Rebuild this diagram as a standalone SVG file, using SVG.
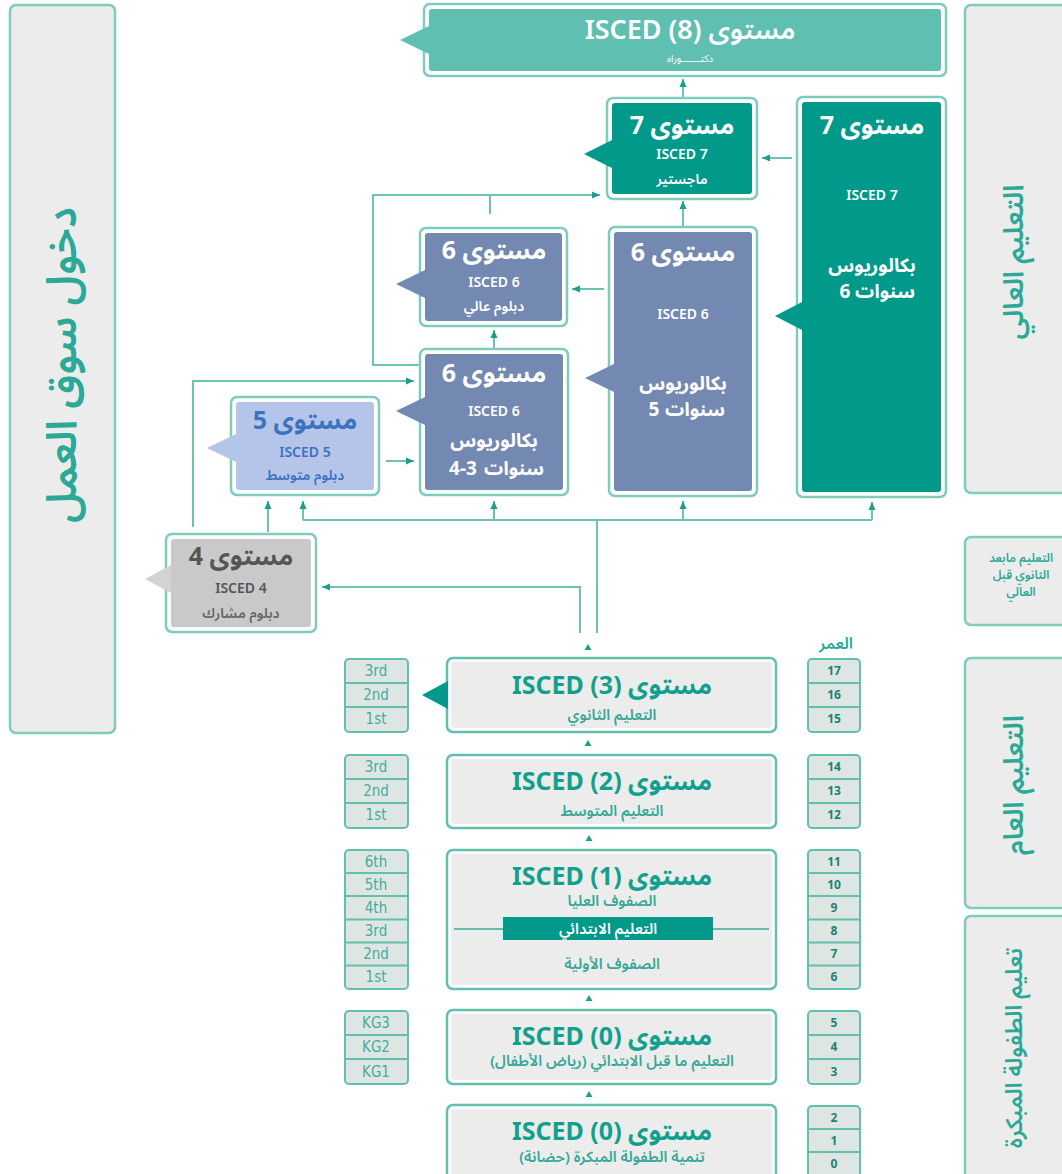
<svg xmlns="http://www.w3.org/2000/svg" width="1062" height="1174" viewBox="0 0 1062 1174">
<defs>
<marker id="ah" markerUnits="userSpaceOnUse" markerWidth="9" markerHeight="8" refX="8" refY="4" orient="auto"><path d="M0,0.5 L8,4 L0,7.5 z" fill="#1a9f8c"/></marker>
<style>
.frame{fill:#fff;stroke:#7fcbbd;stroke-width:2.5}
.side{fill:#ececec;stroke:#7fcbbd;stroke-width:2.5}
.low{fill:#fff;stroke:#63bfae;stroke-width:2.5}
.lowin{fill:#ececec}
.cell{fill:#dde6e3;stroke:#63bfae;stroke-width:2}
.sep{stroke:#63bfae;stroke-width:2}
.c{fill:none;stroke:#6cc3b3;stroke-width:2}
.ca{fill:none;stroke:#6cc3b3;stroke-width:2;marker-end:url(#ah)}
.dot{fill:#1a9f8c}
text{font-family:"Noto Sans","Noto Sans Arabic","DejaVu Sans",sans-serif;text-anchor:middle}
.w{fill:#fff}
.h{font-size:25px;font-weight:700}
.s{font-size:14px;font-weight:600}
.m{font-size:19px;font-weight:700}
.lt{font-size:25px;font-weight:700;fill:#12a08e}
.ls{font-size:15px;fill:#37a897;font-weight:600}
.g{font-family:"Liberation Sans Narrow","DejaVu Sans Condensed","Liberation Sans",sans-serif;font-size:15px;fill:#47ab9c}
.a{font-size:12px;font-weight:700;fill:#1d8273}
.vt{fill:#2ba996;font-weight:600}
</style>
</defs>
<rect x="0" y="0" width="1062" height="1174" fill="#fff"/>

<g id="connectors">
<path class="ca" d="M683,97 V79"/>
<path class="ca" d="M683,226 V201"/>
<path class="ca" d="M792,158 H762"/>
<path class="ca" d="M420,365 H373 V195 H600"/>
<path class="c" d="M490,195 V214"/>
<path class="ca" d="M604,289 H572"/>
<path class="ca" d="M494,348 V330"/>
<path class="ca" d="M193,527 V381 H414"/>
<path class="ca" d="M386,461 H414"/>
<path class="ca" d="M268,532 V501"/>
<path class="c" d="M597,633 V520 M303,520 H872"/>
<path class="ca" d="M303,520 V501"/>
<path class="ca" d="M494,520 V501"/>
<path class="ca" d="M683,520 V501"/>
<path class="ca" d="M872,520 V502"/>
<path class="ca" d="M580,633 V587 H322"/>
<path class="dot" d="M588,644 L591.5,650 L584.5,650 z"/>
<path class="dot" d="M588,740 L591.5,746 L584.5,746 z"/>
<path class="dot" d="M589,835 L592.5,841 L585.5,841 z"/>
<path class="dot" d="M589,995 L592.5,1001 L585.5,1001 z"/>
<path class="dot" d="M589,1091 L592.5,1097 L585.5,1097 z"/>
</g>

<g id="labour-market">
<rect class="side" x="10" y="5" width="105" height="728" rx="6"/>
<text class="vt" transform="translate(76,365) rotate(-90)" font-size="42" direction="rtl">دخول سوق العمل</text>
</g>

<g id="higher-ed">
<rect class="side" x="965" y="5" width="110" height="488" rx="6"/>
<text class="vt" transform="translate(1023,262) rotate(-90)" font-size="28" direction="rtl">التعليم العالي</text>
</g>
<g id="post-secondary">
<rect class="side" x="965" y="537" width="110" height="88" rx="6"/>
<text class="vt" x="1021" y="562" font-size="12" direction="rtl">التعليم مابعد</text>
<text class="vt" x="1021" y="579" font-size="12" direction="rtl">الثانوي قبل</text>
<text class="vt" x="1021" y="596" font-size="12" direction="rtl">العالي</text>
</g>
<g id="general-ed">
<rect class="side" x="965" y="658" width="110" height="250" rx="6"/>
<text class="vt" transform="translate(1023,785) rotate(-90)" font-size="28" direction="rtl">التعليم العام</text>
</g>
<g id="early-childhood">
<rect class="side" x="965" y="916" width="110" height="265" rx="6"/>
<text class="vt" transform="translate(1022,1048) rotate(-90)" font-size="23" direction="rtl">تعليم الطفولة المبكرة</text>
</g>

<g id="isced8">
<rect class="frame" x="424" y="4" width="522" height="72" rx="6"/>
<rect x="429" y="9" width="512" height="62" rx="3" fill="#5fbfb1"/>
<polygon points="400,40 429,26 429,54" fill="#5fbfb1"/>
<text class="w" x="690" y="39" font-size="27" font-weight="600">ISCED (8) مستوى</text>
<text class="w" x="690" y="62" font-size="10" direction="rtl">دكتـــــــوراه</text>
</g>

<g id="master">
<rect class="frame" x="607" y="98" width="150" height="101" rx="6"/>
<rect x="612" y="103" width="140" height="91" rx="3" fill="#00998a"/>
<polygon points="584,154 612,140 612,168" fill="#00998a"/>
<text class="w h" x="682" y="134" direction="rtl">مستوى 7</text>
<text class="w s" x="682" y="159">ISCED 7</text>
<text class="w s" x="682" y="184" direction="rtl">ماجستير</text>
</g>

<g id="bachelor6">
<rect class="frame" x="797" y="97" width="149" height="400" rx="6"/>
<rect x="802" y="102" width="139" height="390" rx="3" fill="#00998a"/>
<polygon points="775,316 802,302 802,330" fill="#00998a"/>
<text class="w h" x="872" y="134" direction="rtl">مستوى 7</text>
<text class="w s" x="872" y="200">ISCED 7</text>
<text class="w m" x="872" y="272" direction="rtl">بكالوريوس</text>
<text class="w m" x="845" y="298">6</text>
<text class="w m" x="885" y="298" direction="rtl">سنوات</text>
</g>

<g id="higher-diploma">
<rect class="frame" x="420" y="228" width="147" height="98" rx="6"/>
<rect x="425" y="233" width="137" height="88" rx="3" fill="#7389b1"/>
<polygon points="396,284 425,270 425,298" fill="#7389b1"/>
<text class="w h" x="494" y="259" direction="rtl">مستوى 6</text>
<text class="w s" x="494" y="287">ISCED 6</text>
<text class="w s" x="494" y="311" direction="rtl">دبلوم عالي</text>
</g>

<g id="bachelor5">
<rect class="frame" x="609" y="227" width="148" height="269" rx="6"/>
<rect x="614" y="232" width="138" height="259" rx="3" fill="#7389b1"/>
<polygon points="585,378 614,364 614,392" fill="#7389b1"/>
<text class="w h" x="683" y="261" direction="rtl">مستوى 6</text>
<text class="w s" x="683" y="319">ISCED 6</text>
<text class="w m" x="683" y="390" direction="rtl">بكالوريوس</text>
<text class="w m" x="654" y="416">5</text>
<text class="w m" x="695" y="416" direction="rtl">سنوات</text>
</g>

<g id="bachelor34">
<rect class="frame" x="420" y="349" width="148" height="146" rx="6"/>
<rect x="425" y="354" width="138" height="136" rx="3" fill="#7389b1"/>
<polygon points="396,411 425,397 425,425" fill="#7389b1"/>
<text class="w h" x="494" y="382" direction="rtl">مستوى 6</text>
<text class="w s" x="494" y="416">ISCED 6</text>
<text class="w m" x="494" y="447" direction="rtl">بكالوريوس</text>
<text class="w m" x="463" y="475">4-3</text>
<text class="w m" x="514" y="475" direction="rtl">سنوات</text>
</g>

<g id="level5">
<rect class="frame" x="231" y="397" width="148" height="98" rx="6"/>
<rect x="236" y="402" width="138" height="88" rx="3" fill="#b4c5e9"/>
<polygon points="207,448 236,434 236,462" fill="#b4c5e9"/>
<text class="h" x="305" y="429" fill="#3d72bf" direction="rtl">مستوى 5</text>
<text class="s" x="305" y="457" fill="#3d72bf" font-weight="700">ISCED 5</text>
<text class="s" x="305" y="480" fill="#3d72bf" font-weight="700" direction="rtl">دبلوم متوسط</text>
</g>

<g id="level4">
<rect class="frame" x="166" y="534" width="150" height="98" rx="6"/>
<rect x="171" y="539" width="140" height="88" rx="3" fill="#c9c9c9"/>
<polygon points="145,579 171,565 171,593" fill="#d3d3d3"/>
<text class="h" x="241" y="565" fill="#555" direction="rtl">مستوى 4</text>
<text class="s" x="241" y="593" fill="#555" font-weight="700">ISCED 4</text>
<text class="s" x="241" y="618" fill="#666" direction="rtl">دبلوم مشارك</text>
</g>

<g id="isced3">
<rect class="low" x="447" y="658" width="329" height="74" rx="6"/>
<rect class="lowin" x="451" y="662" width="321" height="66" rx="3"/>
<polygon points="422,695 448,681 448,709" fill="#00998a"/>
<text class="lt" x="612" y="694">ISCED (3) مستوى</text>
<text class="ls" x="612" y="720" direction="rtl">التعليم الثانوي</text>
</g>

<g id="isced2">
<rect class="low" x="447" y="755" width="329" height="73" rx="6"/>
<rect class="lowin" x="451" y="759" width="321" height="65" rx="3"/>
<text class="lt" x="612" y="790">ISCED (2) مستوى</text>
<text class="ls" x="612" y="816" direction="rtl">التعليم المتوسط</text>
</g>

<g id="isced1">
<rect class="low" x="447" y="850" width="329" height="139" rx="6"/>
<rect class="lowin" x="451" y="854" width="321" height="131" rx="3"/>
<text class="lt" x="612" y="885">ISCED (1) مستوى</text>
<text class="ls" x="612" y="906" direction="rtl">الصفوف العليا</text>
<line x1="454" y1="929" x2="769" y2="929" stroke="#63bfae" stroke-width="2"/>
<rect x="503" y="917" width="210" height="23" fill="#00998a"/>
<text class="w" x="608" y="934" font-size="15" font-weight="600" direction="rtl">التعليم الابتدائي</text>
<text class="ls" x="612" y="969" direction="rtl">الصفوف الأولية</text>
</g>

<g id="isced0-kg">
<rect class="low" x="447" y="1010" width="329" height="74" rx="6"/>
<rect class="lowin" x="451" y="1014" width="321" height="66" rx="3"/>
<text class="lt" x="612" y="1045">ISCED (0) مستوى</text>
<text class="ls" x="612" y="1066" direction="rtl">التعليم ما قبل الابتدائي (رياض الأطفال)</text>
</g>

<g id="isced0-nursery">
<rect class="low" x="447" y="1105" width="329" height="78" rx="6"/>
<rect class="lowin" x="451" y="1109" width="321" height="70" rx="3"/>
<text class="lt" x="612" y="1140">ISCED (0) مستوى</text>
<text class="ls" x="612" y="1162" direction="rtl">تنمية الطفولة المبكرة (حضانة)</text>
</g>

<g id="grades-secondary">
<rect class="cell" x="345" y="659" width="63" height="73" rx="4"/>
<path class="sep" d="M345,683 H408 M345,707 H408"/>
<text class="g" x="376" y="676">3rd</text>
<text class="g" x="376" y="700">2nd</text>
<text class="g" x="376" y="724">1st</text>
</g>
<g id="grades-middle">
<rect class="cell" x="345" y="755" width="63" height="73" rx="4"/>
<path class="sep" d="M345,779 H408 M345,803 H408"/>
<text class="g" x="376" y="772">3rd</text>
<text class="g" x="376" y="796">2nd</text>
<text class="g" x="376" y="820">1st</text>
</g>
<g id="grades-primary">
<rect class="cell" x="345" y="850" width="63" height="139" rx="4"/>
<path class="sep" d="M345,873 H408 M345,896 H408 M345,919.5 H408 M345,942.5 H408 M345,965.5 H408"/>
<text class="g" x="376" y="867">6th</text>
<text class="g" x="376" y="890">5th</text>
<text class="g" x="376" y="913">4th</text>
<text class="g" x="376" y="936">3rd</text>
<text class="g" x="376" y="959">2nd</text>
<text class="g" x="376" y="982">1st</text>
</g>
<g id="grades-kg">
<rect class="cell" x="345" y="1011" width="63" height="73" rx="4"/>
<path class="sep" d="M345,1035 H408 M345,1059 H408"/>
<text class="g" x="376" y="1028">KG3</text>
<text class="g" x="376" y="1052">KG2</text>
<text class="g" x="376" y="1077">KG1</text>
</g>

<g id="ages">
<text class="vt" x="836" y="649" font-size="16" direction="rtl">العمر</text>
<rect class="cell" x="808" y="659" width="52" height="73" rx="4"/>
<path class="sep" d="M808,683 H860 M808,707 H860"/>
<text class="a" x="834" y="675">17</text>
<text class="a" x="834" y="699">16</text>
<text class="a" x="834" y="723">15</text>
<rect class="cell" x="808" y="755" width="52" height="73" rx="4"/>
<path class="sep" d="M808,779 H860 M808,803 H860"/>
<text class="a" x="834" y="771">14</text>
<text class="a" x="834" y="795">13</text>
<text class="a" x="834" y="819">12</text>
<rect class="cell" x="808" y="850" width="52" height="139" rx="4"/>
<path class="sep" d="M808,873 H860 M808,896 H860 M808,919.5 H860 M808,942.5 H860 M808,965.5 H860"/>
<text class="a" x="834" y="866">11</text>
<text class="a" x="834" y="889">10</text>
<text class="a" x="834" y="912">9</text>
<text class="a" x="834" y="935">8</text>
<text class="a" x="834" y="958">7</text>
<text class="a" x="834" y="981">6</text>
<rect class="cell" x="808" y="1011" width="52" height="73" rx="4"/>
<path class="sep" d="M808,1035 H860 M808,1059 H860"/>
<text class="a" x="834" y="1027">5</text>
<text class="a" x="834" y="1051">4</text>
<text class="a" x="834" y="1076">3</text>
<rect class="cell" x="808" y="1106" width="52" height="75" rx="4"/>
<path class="sep" d="M808,1129 H860 M808,1152 H860"/>
<text class="a" x="834" y="1122">2</text>
<text class="a" x="834" y="1145">1</text>
<text class="a" x="834" y="1168">0</text>
</g>
</svg>
